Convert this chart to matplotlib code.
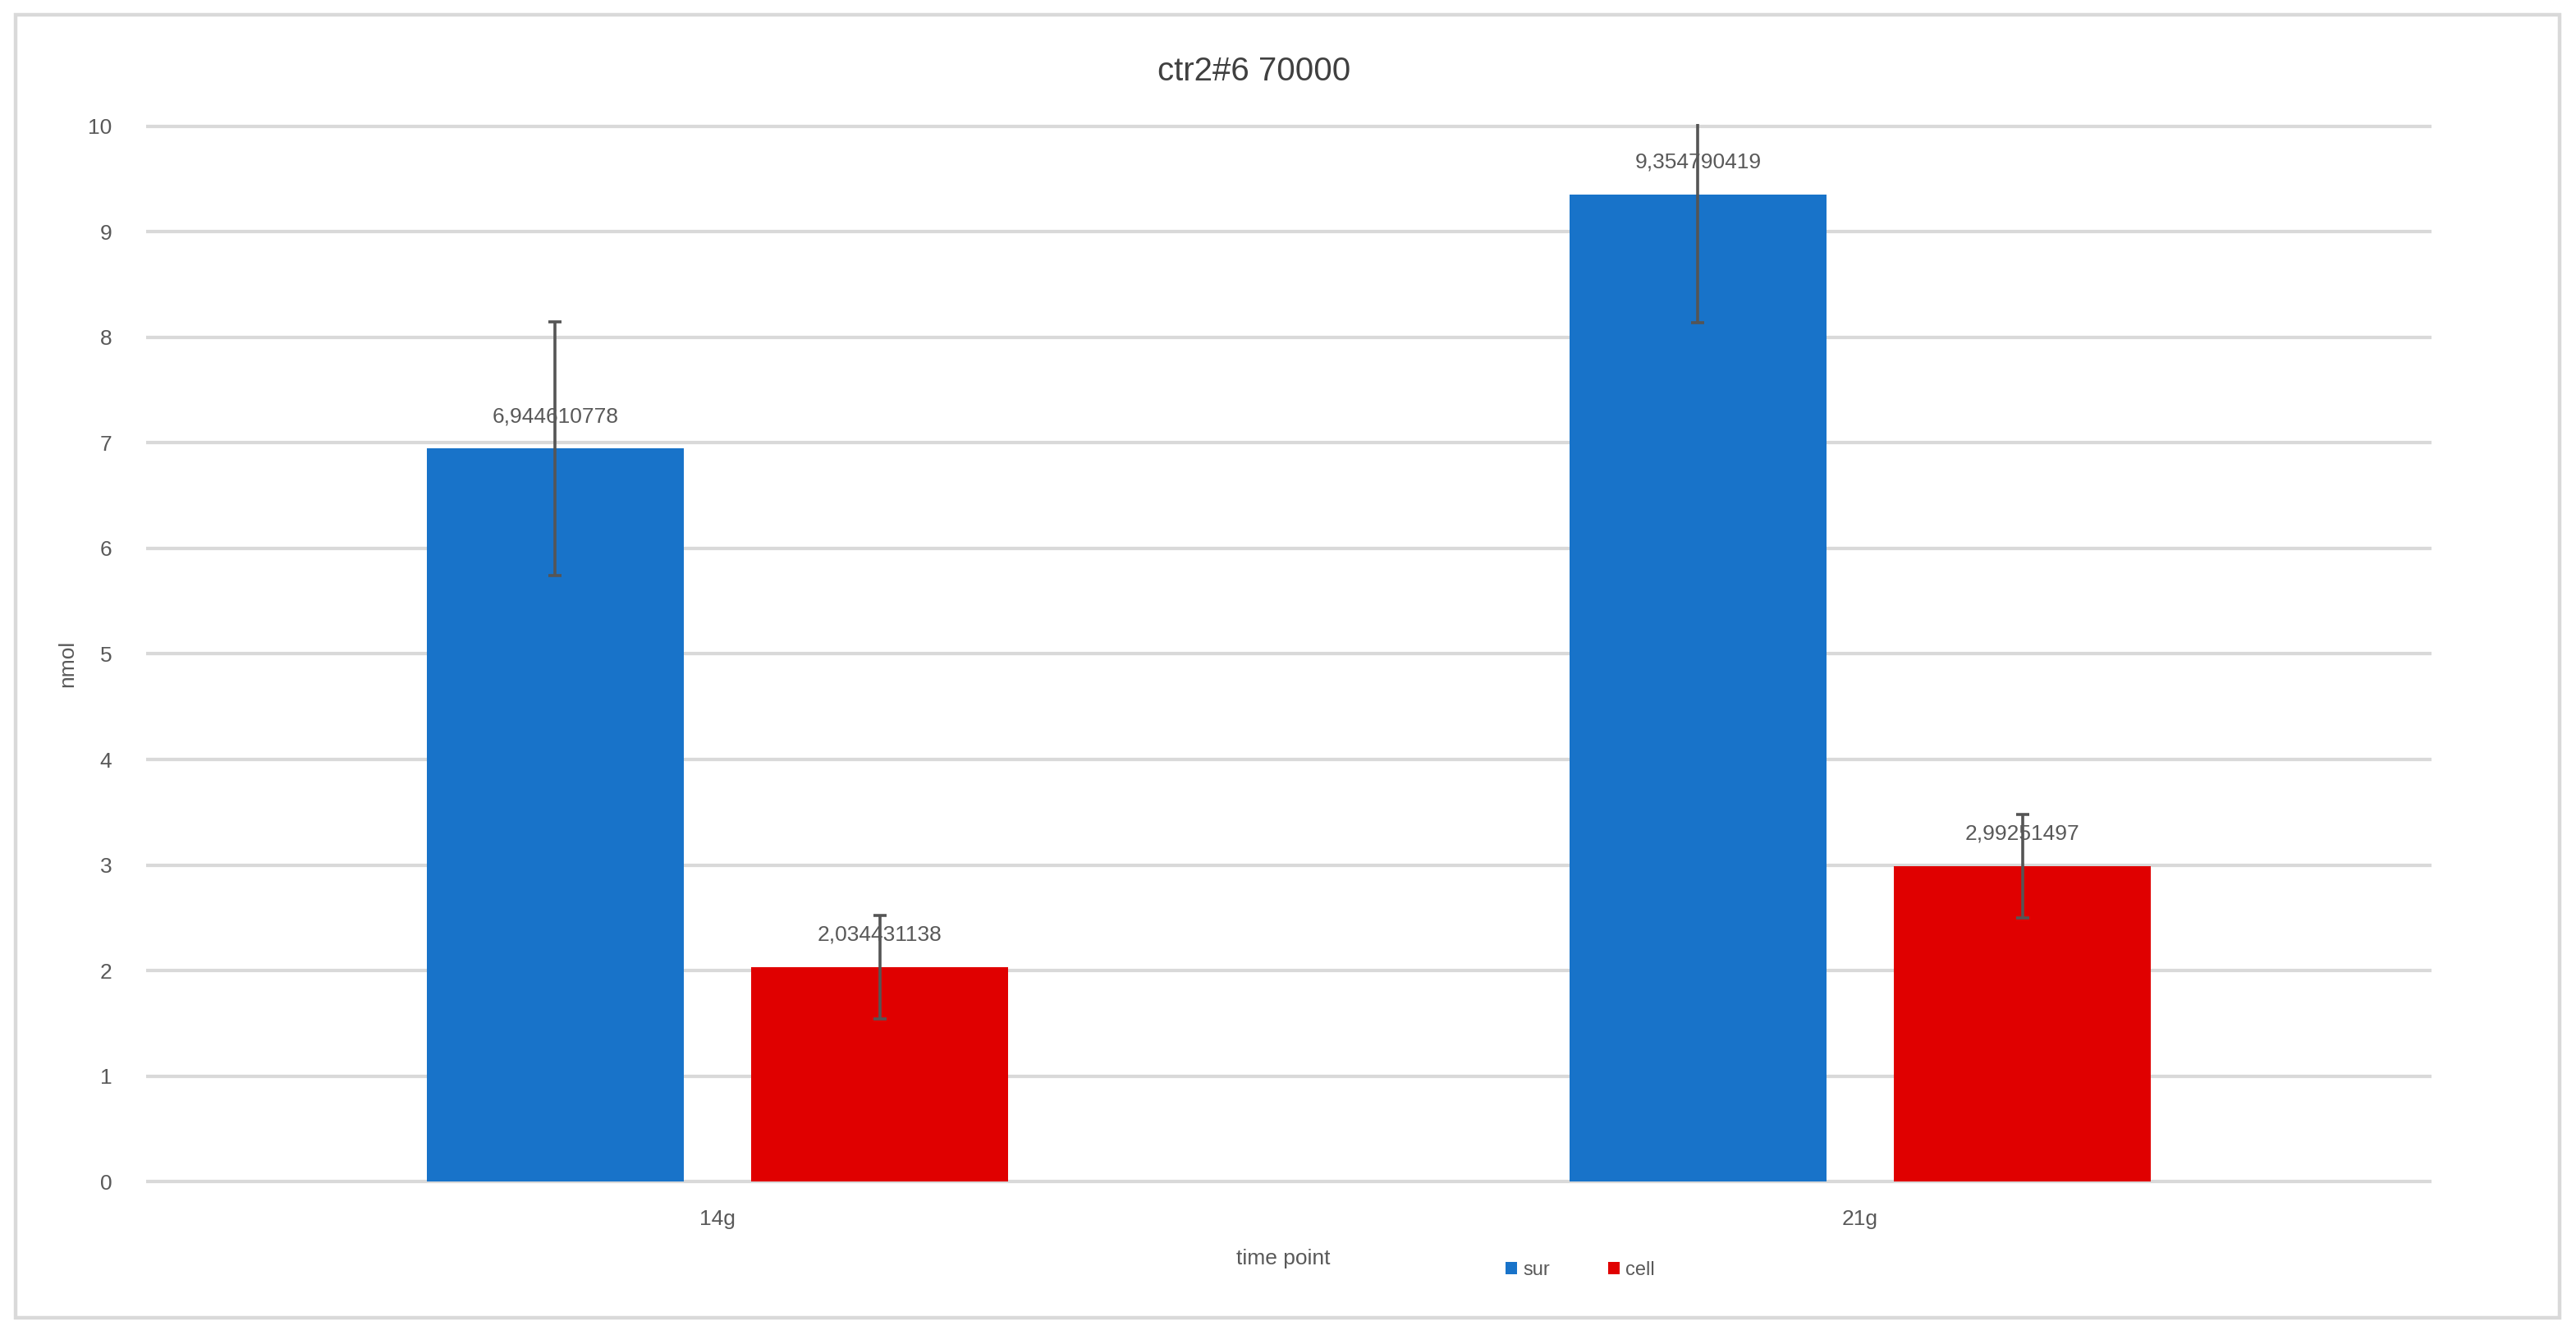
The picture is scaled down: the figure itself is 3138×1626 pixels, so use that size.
"""Grouped bar chart: ctr2#6 70000, nmol per time point for sur / cell."""

import matplotlib

matplotlib.use("Agg")
import matplotlib.pyplot as plt
import numpy as np
from matplotlib.patches import Patch, Rectangle

TIME_POINTS = ["14g", "21g"]
SERIES_NAMES = ["sur", "cell"]
SUR_VALUES = [6.944610778, 9.354790419]
CELL_VALUES = [2.034431138, 2.99251497]
SUR_ERRORS = [1.2, 1.22]
CELL_ERRORS = [0.49, 0.49]
SUR_LABELS = ["6,944610778", "9,354790419"]
CELL_LABELS = ["2,034431138", "2,99251497"]

_BLUE = "#1873C9"
_RED = "#E00000"
_GRID = "#D9D9D9"
_TEXT = "#595959"
_ERR = "#555555"

plt.rcParams.update(
    {
        "font.family": ["Liberation Sans", "DejaVu Sans"],
        "font.size": 19,
    }
)

fig = plt.figure(figsize=(31.38, 16.26), dpi=100)
fig.patch.set_facecolor("white")
fig.patches.append(
    Rectangle(
        (19 / 3138, 21 / 1626),
        3099 / 3138,
        1587 / 1626,
        transform=fig.transFigure,
        fill=False,
        edgecolor=_GRID,
        linewidth=3.2,
    )
)

ax = fig.add_axes([178 / 3138, 184 / 1626, 2784 / 3138, 1291 / 1626])
x = np.arange(len(TIME_POINTS))
bar_width = 0.225
offset = 0.142

for xpos, vals, errs, labels, color in (
    (x - offset, SUR_VALUES, SUR_ERRORS, SUR_LABELS, _BLUE),
    (x + offset, CELL_VALUES, CELL_ERRORS, CELL_LABELS, _RED),
):
    ax.bar(xpos, vals, width=bar_width, color=color, zorder=2)
    ax.errorbar(
        xpos,
        vals,
        yerr=errs,
        fmt="none",
        ecolor=_ERR,
        elinewidth=2.6,
        capsize=6,
        capthick=2.6,
        zorder=3,
    )
    for xp, v, lab in zip(xpos, vals, labels):
        ax.annotate(
            lab,
            (xp, v),
            xytext=(0, 28),
            textcoords="offset points",
            ha="center",
            va="center",
            fontsize=19,
            color=_TEXT,
            zorder=4,
        )

ax.set_xlim(-0.5, 1.5)
ax.set_ylim(-0.02, 10.02)
ax.set_yticks(range(0, 11))
ax.set_xticks(x)
ax.set_xticklabels(TIME_POINTS)
ax.yaxis.grid(True, color=_GRID, linewidth=3, zorder=0)
ax.set_axisbelow(True)
for spine in ax.spines.values():
    spine.set_visible(False)
ax.tick_params(axis="both", length=0, colors=_TEXT, labelsize=19)
ax.tick_params(axis="y", pad=30)
ax.tick_params(axis="x", pad=22)

fig.text(1528 / 3138, 1 - 87 / 1626, "ctr2#6 70000", ha="center", va="center",
         fontsize=29, color="#404040")
fig.text(1563 / 3138, 1 - 1533 / 1626, "time point", ha="center", va="center",
         fontsize=19, color=_TEXT)
fig.text(82 / 3138, 1 - 808 / 1626, "nmol", ha="center", va="center",
         rotation=90, fontsize=19, color=_TEXT)

handles = [Patch(facecolor=_BLUE), Patch(facecolor=_RED)]
fig.legend(
    handles,
    SERIES_NAMES,
    loc="center",
    bbox_to_anchor=(1925 / 3138, 1 - 1547 / 1626),
    ncol=2,
    frameon=False,
    fontsize=17,
    handlelength=0.6,
    handleheight=0.6,
    handletextpad=0.3,
    columnspacing=3.0,
    labelcolor=_TEXT,
)

fig.savefig("out.png", dpi=100, facecolor="white")
